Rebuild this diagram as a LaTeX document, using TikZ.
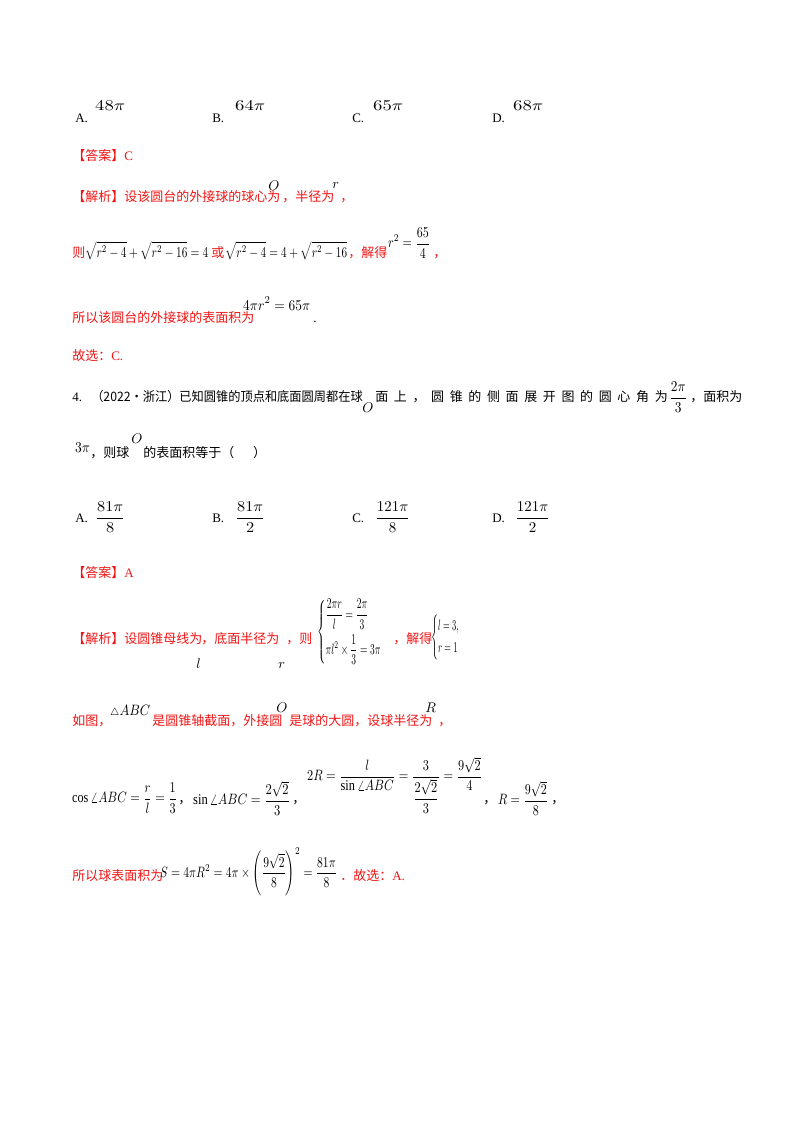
\documentclass[tikz,border=0pt]{standalone}
\usepackage{amsmath}
\usepackage{graphicx}
\usepackage{fontspec}
\setmainfont{Liberation Serif}
\newfontfamily\cjk{Noto Sans CJK SC}
\definecolor{ans}{RGB}{240,20,20}
\newsavebox\mbx
\newcommand{\fw}[2]{\sbox\mbx{$\displaystyle #2$}\pgfmathsetmacro\sx{#1/\wd\mbx}\scalebox{\sx}[1.5]{\usebox\mbx}}
\begin{document}
\begin{tikzpicture}[x=1pt,y=-1pt,
  t/.style={anchor=base west,inner sep=0pt,scale=1.3,transform shape},
  r/.style={t,text=ans},
  mt/.style={anchor=base west,inner sep=0pt,scale=1.4,transform shape},
  m/.style={anchor=base west,inner sep=0pt},
  mc/.style={anchor=west,inner sep=0pt}]
\useasboundingbox (0,0) rectangle (800,1132);
% options row 1
\node[t] (a1) at (75,122) {A.};
\node[m] (a1m) at (95,110) {\fw{30}{48\pi}};
\node[t] (b1) at (212,122) {B.};
\node[m] (b1m) at (235,110) {\fw{30}{64\pi}};
\node[t] (c1) at (352,122) {C.};
\node[m] (c1m) at (373,110) {\fw{30}{65\pi}};
\node[t] (d1) at (492,122) {D.};
\node[m] (d1m) at (513,110) {\fw{30}{68\pi}};
\node[r] (ans1) at (72,160) {\cjk 【答案】\rmfamily C};
\node[r] (j1) at (72,201) {\cjk 【解析】设该圆台的外接球的球心为};
\node[mt] (j1o) at (268,190) {$O$};
\node[r] (j1b) at (282,201) {\cjk ，半径为};
\node[mt] (j1r) at (332,188) {$r$};
\node[r] (j1c) at (340,201) {\cjk ，};
\node[r] (z1) at (72,257) {\cjk 则};
\node[m] (z1m) at (85,257) {\fw{123}{\sqrt{r^2-4}+\sqrt{r^2-16}=4}};
\node[r] (z1h) at (211,257) {\cjk 或};
\node[m] (z1n) at (225,257) {\fw{122}{\sqrt{r^2-4}=4+\sqrt{r^2-16}}};
\node[r] (z1j) at (348,257) {\cjk ，解得};
\node[mc] (z1f) at (388,243) {\fw{42}{r^2=\dfrac{65}{4}}};
\node[r] (z1c) at (433,257) {\cjk ，};
\node[r] (s1) at (72,322) {\cjk 所以该圆台的外接球的表面积为};
\node[m] (s1m) at (243,310) {\fw{67}{4\pi r^2=65\pi}};
\node[t] (s1d) at (313,322) {.};
\node[r] (g1) at (72,360) {\cjk 故选：\rmfamily C.};
% question 4
\node[t] (q4) at (72,401) {4.};
\node[t] (q4a) at (91,401) {\cjk\scalebox{0.94}[1]{（2022\textbullet 浙江）已知圆锥的顶点和底面圆周都在球}};
\node[mt] (q4o) at (362,412) {$O$};
\node[t] (q4b) at (375,401) {\cjk\makebox[225pt][s]{面\hfill 上\hfill ，\hfill 圆\hfill 锥\hfill 的\hfill 侧\hfill 面\hfill 展\hfill 开\hfill 图\hfill 的\hfill 圆\hfill 心\hfill 角\hfill 为}};
\node[mc] (q4f) at (669,397) {\fw{18}{\dfrac{2\pi}{3}}};
\node[t] (q4c) at (690,401) {\cjk ，面积为};
\node[m] (q4d) at (75,452) {\fw{15}{3\pi}};
\node[t] (q4e) at (90,457) {\cjk ，则球};
\node[mt] (q4g) at (131,443) {$O$};
\node[t] (q4h) at (143,457) {\cjk 的表面积等于（\quad\ \ ）};
% options row 2
\node[t] (a2) at (75,522) {A.};
\node[mc] (a2m) at (95,517) {\fw{30}{\dfrac{81\pi}{8}}};
\node[t] (b2) at (212,522) {B.};
\node[mc] (b2m) at (235,517) {\fw{30}{\dfrac{81\pi}{2}}};
\node[t] (c2) at (352,522) {C.};
\node[mc] (c2m) at (375,517) {\fw{35}{\dfrac{121\pi}{8}}};
\node[t] (d2) at (492,522) {D.};
\node[mc] (d2m) at (515,517) {\fw{35}{\dfrac{121\pi}{2}}};
\node[r] (ans2) at (72,577) {\cjk 【答案】\rmfamily A};
% solution
\node[r] (k1) at (72,643) {\cjk 【解析】设圆锥母线为};
\node[r] (k1b) at (201,643) {\cjk ，底面半径为};
\node[r] (k1c) at (286,643) {\cjk ，则};
\node[mt] (k1l) at (196,668) {$l$};
\node[mt] (k1r) at (278,668) {$r$};
\node[mc] (k1s) at (317,632) {\fw{74}{\begin{cases}\dfrac{2\pi r}{l}=\dfrac{2\pi}{3}\\[6pt]\pi l^2\times\dfrac13=3\pi\end{cases}}};
\node[r] (k1j) at (393,643) {\cjk ，解得};
\node[mc] (k1t) at (431,637) {\fw{37}{\begin{cases}l=3,\\ r=1\end{cases}}};
\node[r] (h1) at (72,725) {\cjk 如图，};
\node[m] (h1a) at (110,715) {\fw{40}{{\scriptstyle\triangle}ABC}};
\node[r] (h1b) at (152,725) {\cjk 是圆锥轴截面，外接圆};
\node[mt] (h1o) at (276,712) {$O$};
\node[r] (h1c) at (289,725) {\cjk 是球的大圆，设球半径为};
\node[mt] (h1r) at (425,712) {$R$};
\node[r] (h1d) at (438,725) {\cjk ，};
\node[mc] (c3) at (72,798) {\fw{105}{\cos\angle ABC=\dfrac{r}{l}=\dfrac13}};
\node[r,text=black] (c3a) at (178,803) {\cjk ，};
\node[mc] (c3b) at (193,798) {\fw{97}{\sin\angle ABC=\dfrac{2\sqrt2}{3}}};
\node[r,text=black] (c3c) at (292,803) {\cjk ，};
\node[mc] (c3d) at (307,785) {\fw{175}{2R=\dfrac{l}{\sin\angle ABC}=\dfrac{3}{\dfrac{2\sqrt2}{3}}=\dfrac{9\sqrt2}{4}}};
\node[r,text=black] (c3e) at (483,803) {\cjk ，};
\node[mc] (c3f) at (498,798) {\fw{50}{R=\dfrac{9\sqrt2}{8}}};
\node[r,text=black] (c3g) at (551,803) {\cjk ，};
\node[r] (f1) at (72,880) {\cjk 所以球表面积为};
\node[mc] (f1m) at (160,872) {\fw{177}{S=4\pi R^2=4\pi\times\left(\dfrac{9\sqrt2}{8}\right)^2=\dfrac{81\pi}{8}}};
\node[r] (f1e) at (340,880) {\cjk ．故选：\rmfamily A.};
\end{tikzpicture}
\end{document}
